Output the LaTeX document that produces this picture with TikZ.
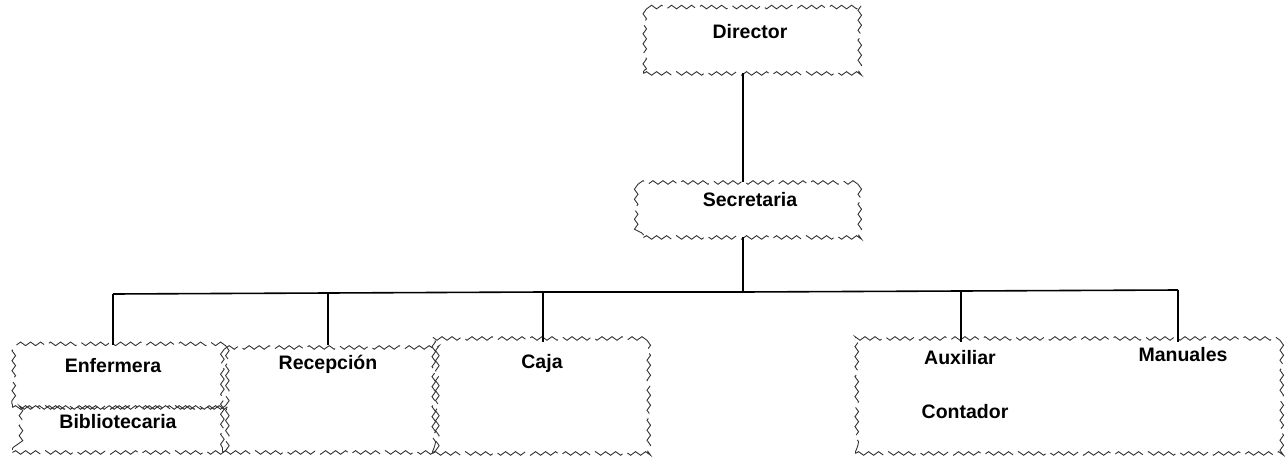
\documentclass[tikz,border=0pt]{standalone}
\usepackage{fontspec}
\setmainfont{Liberation Sans}
\usetikzlibrary{decorations.pathmorphing}
\begin{document}
\begin{tikzpicture}[x=1pt,y=-1pt,
  wavy/.style={draw=black!80, line width=0.9pt, decorate,
    decoration={snake, segment length=10pt, amplitude=1.8pt},
    dash pattern=on 34pt off 6pt,
    rectangle, inner sep=0pt, anchor=north west},
  lbl/.style={font=\bfseries\fontsize{19.5}{21}\selectfont, inner sep=0pt},
  conn/.style={draw=black, line width=1.6pt}]
\useasboundingbox (0,0) rectangle (1285,463);
% boxes
\node[wavy, minimum width=217pt, minimum height=67pt] (dirbox) at (643,6) {};
\node[wavy, minimum width=217pt, minimum height=55pt] (secbox) at (643,182) {};
\node[wavy, minimum width=210pt, minimum height=62pt] (enfbox) at (12,345) {};
\node[wavy, minimum width=210pt, minimum height=45pt] (bibbox) at (12,407) {};
\node[wavy, minimum width=211pt, minimum height=107pt] (recbox) at (222,345) {};
\node[wavy, minimum width=218pt, minimum height=111pt] (cajbox) at (432,342) {};
\node[wavy, minimum width=428pt, minimum height=111pt] (auxbox) at (855,342) {};
% labels
\node[lbl] (dir) at (750,32) {Director};
\node[lbl] (sec) at (750,200) {Secretaria};
\node[lbl] (enf) at (113,366) {Enfermera};
\node[lbl] (bib) at (118,422) {Bibliotecaria};
\node[lbl] (rec) at (328,364) {Recepción};
\node[lbl] (caj) at (542,363) {Caja};
\node[lbl] (aux) at (960,358) {Auxiliar};
\node[lbl] (man) at (1183,355) {Manuales};
\node[lbl] (con) at (965,412) {Contador};
% bus coordinates
\coordinate (tsec) at (743,237);
\coordinate (bmid) at (743,292);
\coordinate (b1) at (113,294);
\coordinate (b2) at (328,293);
\coordinate (b3) at (543,292);
\coordinate (b4) at (961,291);
\coordinate (b5) at (1178,290);
% connectors
\draw[conn] (743,73) -- (743,182);
\draw[conn] (tsec) -- (bmid);
\draw[conn] (b1) -- (b2) -- (b3) -- (bmid) -- (b4) -- (b5);
\draw[conn] (b1) -- (b1 |- enfbox.north);
\draw[conn] (b2) -- (b2 |- recbox.north);
\draw[conn] (b3) -- (b3 |- cajbox.north);
\draw[conn] (b4) -- (b4 |- auxbox.north);
\draw[conn] (b5) -- (b5 |- auxbox.north);
\end{tikzpicture}
\end{document}
